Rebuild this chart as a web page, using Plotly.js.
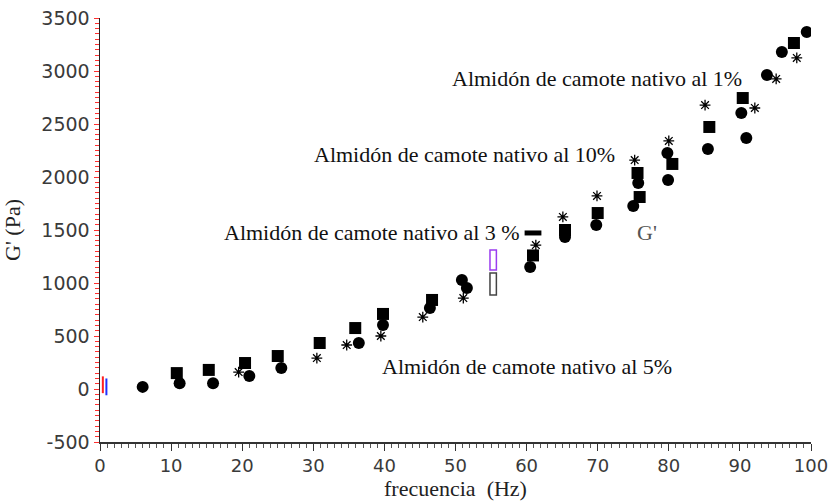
<!DOCTYPE html>
<html>
<head>
<meta charset="utf-8">
<script src="https://cdn.plot.ly/plotly-3.0.1.min.js"></script>
<style>
  html, body { margin: 0; padding: 0; background: #fff; }
  #grafico { width: 828px; height: 501px; }
</style>
</head>
<body>
<div id="grafico"></div>
<script>
// Módulo elástico G' (Pa) frente a la frecuencia (Hz)

// Marcadores cuadrados
const frecCuadros = [10.8, 15.3, 20.4, 25.0, 30.9, 35.9, 39.8, 46.7, 60.9, 65.4, 70.0, 75.6, 75.9, 80.5, 85.7, 90.4, 97.6];
const gCuadros    = [150, 180, 245, 311, 434, 575, 708, 840, 1260, 1500, 1660, 2038, 1811, 2123, 2472, 2745, 3264];

// Marcadores circulares
const frecCirculos = [6.0, 11.2, 15.9, 21.0, 25.5, 36.4, 39.8, 46.4, 50.9, 51.6, 60.5, 65.4, 69.8, 75.7, 75.0, 79.8, 79.9, 85.5, 90.2, 90.9, 93.8, 95.9, 99.4];
const gCirculos    = [20, 55, 55, 123, 198, 434, 604, 764, 1028, 953, 1151, 1434, 1547, 1943, 1726, 2226, 1972, 2264, 2604, 2368, 2962, 3179, 3368];

// Marcadores de asterisco
const frecAsteriscos = [19.5, 30.5, 34.7, 39.5, 45.4, 51.1, 61.3, 65.1, 69.9, 75.2, 80.0, 85.1, 92.1, 95.1, 98.0];
const gAsteriscos    = [160, 292, 415, 500, 679, 858, 1358, 1623, 1821, 2160, 2340, 2679, 2651, 2925, 3123];

// Marca en forma de guion
const frecGuion = [60.9];
const gGuion    = [1472];

// Marcas verticales cerca del origen
const frecOrigen = [0.4, 0.9];
const gOrigen    = [40, 20];

// Rectángulos abiertos a 55 Hz (inferior y superior de cada uno)
const frecRect  = [55.3, 55.3];
const gRectBase = [887, 1123];
const gRectTope = [1094, 1311];

// Marcas de los ejes
const ticksY      = [-500, 0, 500, 1000, 1500, 2000, 2500, 3000, 3500];
const etiquetasY  = ["-500", "0", "500", "1000", "1500", "2000", "2500", "3000", "3500"];
const ticksX      = [0, 10, 20, 30, 40, 50, 60, 70, 80, 90, 100];

// Rótulos de las series
const rotulos = [
  { texto: "Almidón de camote nativo al 1%",  x: 49.2, y: 2934 },
  { texto: "Almidón de camote nativo al 10%", x: 29.8, y: 2208 },
  { texto: "Almidón de camote nativo al 3 %", x: 17.2, y: 1481 },
  { texto: "Almidón de camote nativo al 5%",  x: 39.4, y: 217 }
];
const rotuloG = { texto: "G'", x: 75.2, y: 1472 };

const serif = "Liberation Serif, Times New Roman, serif";

const trazas = [
  {
    type: "bar",
    x: frecRect,
    base: gRectBase,
    y: gRectTope.map((t, i) => t - gRectBase[i]),
    width: 0.9,
    marker: { color: "rgba(255,255,255,0)", line: { color: ["#444", "#9a3cf0"], width: 1.5 } },
    hoverinfo: "skip",
    showlegend: false
  },
  {
    type: "scatter", mode: "markers",
    x: frecOrigen, y: gOrigen,
    marker: { symbol: "line-ns-open", size: 12, color: ["#ff2020", "#2030ff"], line: { width: 2 } },
    showlegend: false
  },
  {
    type: "scatter", mode: "markers", name: "cuadros",
    x: frecCuadros, y: gCuadros,
    marker: { symbol: "square", size: 12, color: "#000" },
    showlegend: false
  },
  {
    type: "scatter", mode: "markers", name: "circulos",
    x: frecCirculos, y: gCirculos,
    marker: { symbol: "circle", size: 12, color: "#000" },
    showlegend: false
  },
  {
    type: "scatter", mode: "markers", name: "guion",
    x: frecGuion, y: gGuion,
    marker: { symbol: "line-ew-open", size: 12, color: "#000", line: { width: 5 } },
    showlegend: false
  },
  {
    type: "scatter", mode: "markers", name: "asteriscos",
    x: frecAsteriscos, y: gAsteriscos,
    marker: { symbol: "asterisk-open", size: 9, color: "#000", line: { width: 1.3 } },
    showlegend: false
  }
];

const anotaciones = rotulos.map(r => ({
  x: r.x, y: r.y, xref: "x", yref: "y",
  text: r.texto, showarrow: false,
  xanchor: "left", yanchor: "middle",
  font: { family: serif, size: 22, color: "#111" }
}));
anotaciones.push({
  x: rotuloG.x, y: rotuloG.y, xref: "x", yref: "y",
  text: rotuloG.texto, showarrow: false,
  xanchor: "left", yanchor: "middle",
  font: { family: serif, size: 22, color: "#555" }
});

const layout = {
  width: 828, height: 501,
  margin: { l: 100, r: 17, t: 18, b: 59 },
  paper_bgcolor: "#fff", plot_bgcolor: "#fff",
  barmode: "overlay",
  showlegend: false,
  xaxis: {
    range: [0, 100],
    showgrid: false, zeroline: false,
    showline: true, linecolor: "#333", linewidth: 1.5,
    tickmode: "array", tickvals: ticksX,
    ticks: "outside", ticklen: 7, tickcolor: "#333", tickwidth: 1,
    ticklabeloverflow: "allow",
    minor: { dtick: 1, ticks: "outside", ticklen: 4, tickcolor: "#555", tickwidth: 1, showgrid: false },
    tickfont: { family: "DejaVu Sans, sans-serif", size: 18, color: "#3a3a3a" },
    title: { text: "frecuencia\u00a0\u00a0(Hz)", font: { family: serif, size: 22, color: "#222" }, standoff: 4 }
  },
  yaxis: {
    range: [-500, 3500],
    showgrid: false, zeroline: false,
    showline: true, linecolor: "#222", linewidth: 1.5,
    tickmode: "array", tickvals: ticksY, ticktext: etiquetasY,
    ticks: "outside", ticklen: 5, tickcolor: "#ff3030", tickwidth: 1,
    minor: { dtick: 50, ticks: "outside", ticklen: 4, tickcolor: "#ff3030", tickwidth: 1, showgrid: false },
    tickfont: { family: "DejaVu Sans, sans-serif", size: 19, color: "#3a3a3a" },
    title: { text: "G' (Pa)", font: { family: serif, size: 22, color: "#222" }, standoff: 14 }
  },
  annotations: anotaciones
};

Plotly.newPlot("grafico", trazas, layout, { staticPlot: true, displayModeBar: false });
</script>
</body>
</html>
